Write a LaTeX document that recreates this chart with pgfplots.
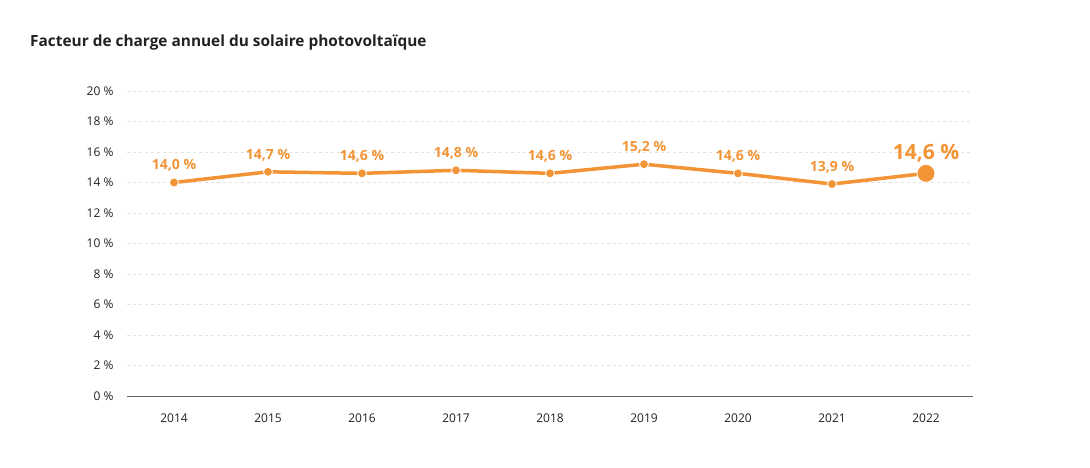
\documentclass[border=0pt]{standalone}
\usepackage{pgfplots}
\pgfplotsset{compat=1.18}
\usepackage{fontspec}
\setmainfont{Open Sans}
\definecolor{orng}{HTML}{F29436}
\definecolor{txt}{HTML}{222222}
\definecolor{gridc}{HTML}{E3E3E3}
\begin{document}
\begin{tikzpicture}
\begin{axis}[
  scale only axis, width=846pt, height=305pt,
  xmin=-0.5, xmax=8.5, ymin=0, ymax=20,
  xtick={0,...,8},
  xticklabels={2014,2015,2016,2017,2018,2019,2020,2021,2022},
  ytick={0,2,...,20},
  yticklabel={\pgfmathprintnumber{\tick} \%},
  /pgf/number format/assume math mode=true,
  tick label style={font=\fontsize{12}{14}\selectfont, text=txt},
  xticklabel style={yshift=-14pt},
  yticklabel style={xshift=-10pt},
  major tick length=0pt,
  axis line style={draw=none},
  ymajorgrids, grid style={gridc, dashed, line width=0.8pt},
  clip=false,
]
\draw[gray!80!black, line width=1pt] (axis cs:-0.5,0) -- (axis cs:8.5,0);
\addplot[orng, line width=3.5pt, line join=round, mark=none] coordinates {
(0,14.0) (1,14.7) (2,14.6) (3,14.8) (4,14.6) (5,15.2) (6,14.6) (7,13.9) (8,14.6)};
\addplot[only marks, mark=*, mark size=4.5pt, mark options={fill=orng, draw=white, line width=0.8pt},
  point meta=y,
  nodes near coords={\pgfmathprintnumber[fixed,fixed zerofill,precision=1,use comma]{\pgfplotspointmeta} \%},
  every node near coord/.append style={font=\fontsize{14}{16}\selectfont\bfseries, text=orng, yshift=7pt}
] coordinates {
(0,14.0) (1,14.7) (2,14.6) (3,14.8) (4,14.6) (5,15.2) (6,14.6) (7,13.9)};
\addplot[only marks, mark=*, mark size=9pt, mark options={fill=orng, draw=white, line width=0.8pt},
  point meta=y,
  nodes near coords={\pgfmathprintnumber[fixed,fixed zerofill,precision=1,use comma]{\pgfplotspointmeta} \%},
  every node near coord/.append style={font=\fontsize{21}{25}\selectfont\bfseries, text=orng, yshift=7pt}
] coordinates {(8,14.6)};
\end{axis}
\node[anchor=base west,font=\fontsize{15.4}{18}\selectfont\bfseries,text=txt,inner sep=0pt] at (-97pt,350pt) {Facteur de charge annuel du solaire photovoltaïque};
\pgfresetboundingbox
\useasboundingbox (-127pt,-71pt) rectangle (963pt,396pt);
\end{tikzpicture}
\end{document}
